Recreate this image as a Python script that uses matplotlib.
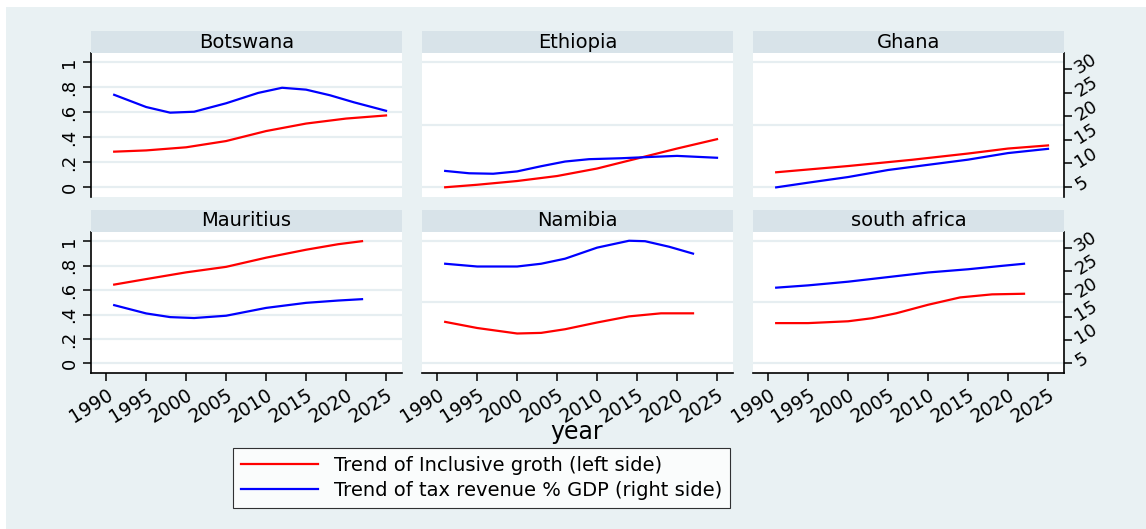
import matplotlib
matplotlib.use("Agg")
import matplotlib.pyplot as plt
from matplotlib.patches import Rectangle
from matplotlib.lines import Line2D

# panel order: top row then bottom row
countries = ["Botswana", "Ethiopia", "Ghana", "Mauritius", "Namibia", "south africa"]

# inclusive growth (left axis)
bw_red_yr = [1991, 1995, 2000, 2005, 2010, 2015, 2020, 2025]
bw_red = [0.285, 0.295, 0.32, 0.37, 0.45, 0.51, 0.55, 0.575]
et_red_yr = [1991, 1995, 2000, 2005, 2010, 2015, 2020, 2025]
et_red = [0.0, 0.02, 0.05, 0.09, 0.15, 0.23, 0.31, 0.385]
gh_red_yr = [1991, 2000, 2008, 2015, 2020, 2025]
gh_red = [0.12, 0.17, 0.22, 0.27, 0.31, 0.335]
mu_red_yr = [1991, 1995, 2000, 2005, 2010, 2015, 2019, 2022]
mu_red = [0.645, 0.69, 0.745, 0.79, 0.865, 0.93, 0.975, 1.0]
na_red_yr = [1991, 1995, 2000, 2003, 2006, 2010, 2014, 2018, 2022]
na_red = [0.34, 0.29, 0.245, 0.25, 0.28, 0.335, 0.385, 0.41, 0.41]
za_red_yr = [1991, 1995, 2000, 2003, 2006, 2010, 2014, 2018, 2022]
za_red = [0.33, 0.33, 0.345, 0.37, 0.41, 0.48, 0.54, 0.565, 0.57]

# tax revenue % GDP (right axis)
bw_blue_yr = [1991, 1995, 1998, 2001, 2005, 2009, 2012, 2015, 2018, 2021, 2025]
bw_blue = [24.6, 22.0, 20.8, 21.0, 22.8, 25.0, 26.1, 25.7, 24.5, 23.0, 21.2]
et_blue_yr = [1991, 1994, 1997, 2000, 2003, 2006, 2009, 2013, 2017, 2020, 2025]
et_blue = [8.4, 7.9, 7.8, 8.3, 9.4, 10.4, 10.9, 11.1, 11.4, 11.6, 11.2]
gh_blue_yr = [1991, 1995, 2000, 2005, 2010, 2015, 2020, 2025]
gh_blue = [4.9, 5.9, 7.1, 8.6, 9.7, 10.8, 12.2, 13.1]
mu_blue_yr = [1991, 1995, 1998, 2001, 2005, 2010, 2015, 2019, 2022]
mu_blue = [17.6, 15.8, 15.0, 14.8, 15.3, 17.0, 18.1, 18.6, 18.9]
na_blue_yr = [1991, 1995, 2000, 2003, 2006, 2010, 2014, 2016, 2019, 2022]
na_blue = [26.6, 26.0, 26.0, 26.6, 27.7, 30.1, 31.6, 31.5, 30.3, 28.8]
za_blue_yr = [1991, 1995, 2000, 2005, 2010, 2015, 2019, 2022]
za_blue = [21.4, 21.9, 22.7, 23.7, 24.7, 25.4, 26.1, 26.6]

red_series = [(bw_red_yr, bw_red), (et_red_yr, et_red), (gh_red_yr, gh_red),
              (mu_red_yr, mu_red), (na_red_yr, na_red), (za_red_yr, za_red)]
blue_series = [(bw_blue_yr, bw_blue), (et_blue_yr, et_blue), (gh_blue_yr, gh_blue),
               (mu_blue_yr, mu_blue), (na_blue_yr, na_blue), (za_blue_yr, za_blue)]

x_ticks = [1990, 1995, 2000, 2005, 2010, 2015, 2020, 2025]
left_ticks = [0, 0.2, 0.4, 0.6, 0.8, 1]
left_labels = ["0", ".2", ".4", ".6", ".8", "1"]
right_ticks = [5, 10, 15, 20, 25, 30]

BG = "#e9f1f3"
STRIP = "#d8e3e9"
GRID = "#e6eef1"
W, H = 1146, 529

fig = plt.figure(figsize=(W / 100, H / 100), dpi=100, facecolor="white")
fig.add_artist(Rectangle((6 / W, 0), 1, 1 - 7 / H, transform=fig.transFigure,
                         facecolor=BG, edgecolor="none", zorder=-10))

col_left = [91, 422, 753]
row_box = [(53, 197), (232, 373)]
pw = 311

for i, name in enumerate(countries):
    r, c = divmod(i, 3)
    top, bot = row_box[r]
    ax = fig.add_axes([col_left[c] / W, 1 - bot / H, pw / W, (bot - top) / H])
    ax.set_facecolor("white")
    ax2 = ax.twinx()
    ax2.patch.set_visible(False)

    ax.set_xlim(1988.1, 2027)
    ax.set_ylim(-0.078, 1.075)
    ax2.set_ylim(2.85, 33.5)

    for a in (ax, ax2):
        for s in a.spines.values():
            s.set_visible(False)

    if c == 0:
        ax.set_yticks(left_ticks)
        ax.set_yticklabels(left_labels, rotation=90, va="center", fontsize=13)
        ax.spines["left"].set_visible(True)
        ax.spines["left"].set_linewidth(1.2)
        ax.tick_params(axis="y", length=6, width=1.1, pad=3)
    else:
        ax.set_yticks([0, 0.5, 1])
        ax.tick_params(axis="y", length=0, labelleft=False)
    ax.yaxis.grid(True, color=GRID, lw=1.6)
    ax.set_axisbelow(True)

    if c == 2:
        ax2.set_yticks(right_ticks)
        ax2.set_yticklabels([str(t) for t in right_ticks], rotation=32,
                            ha="left", va="center", rotation_mode="anchor", fontsize=13)
        ax2.spines["right"].set_visible(True)
        ax2.spines["right"].set_linewidth(1.2)
        ax2.tick_params(axis="y", length=6, width=1.1, pad=3)
    else:
        ax2.set_yticks([])

    ax.set_xticks(x_ticks)
    if r == 1:
        ax.spines["bottom"].set_visible(True)
        ax.spines["bottom"].set_linewidth(1.2)
        ax.set_xticklabels([str(t) for t in x_ticks], rotation=32, ha="right",
                           va="top", rotation_mode="anchor", fontsize=13.5)
        ax.tick_params(axis="x", length=6, width=1.1, pad=3)
    else:
        ax.tick_params(axis="x", length=0, labelbottom=False)

    ry, rv = red_series[i]
    by, bv = blue_series[i]
    ax.plot(ry, rv, color="#ff0000", lw=1.6, zorder=3)
    ax2.plot(by, bv, color="#0000ff", lw=1.6, zorder=3)

    # strip header
    sh = 22
    fig.add_artist(Rectangle((col_left[c] / W, 1 - top / H), pw / W, sh / H,
                             transform=fig.transFigure, facecolor=STRIP,
                             edgecolor="none"))
    fig.text((col_left[c] + pw / 2) / W, 1 - (top - sh / 2) / H, name,
             ha="center", va="center", fontsize=14)

fig.text(577 / W, 1 - 432 / H, "year", ha="center", va="center", fontsize=17)

handles = [Line2D([], [], color="#ff0000", lw=1.6),
           Line2D([], [], color="#0000ff", lw=1.6)]
labels = ["Trend of Inclusive groth (left side)",
          "Trend of tax revenue % GDP (right side)"]
leg = fig.legend(handles, labels, loc="center", bbox_to_anchor=(481.5 / W, 1 - 478 / H),
                 fontsize=14, frameon=True, fancybox=False, handlelength=4.0,
                 handletextpad=0.8, labelspacing=0.3, borderpad=0.4)
leg.get_frame().set_edgecolor("black")
leg.get_frame().set_linewidth(0.8)

fig.savefig("out.png", dpi=100, facecolor="white")
